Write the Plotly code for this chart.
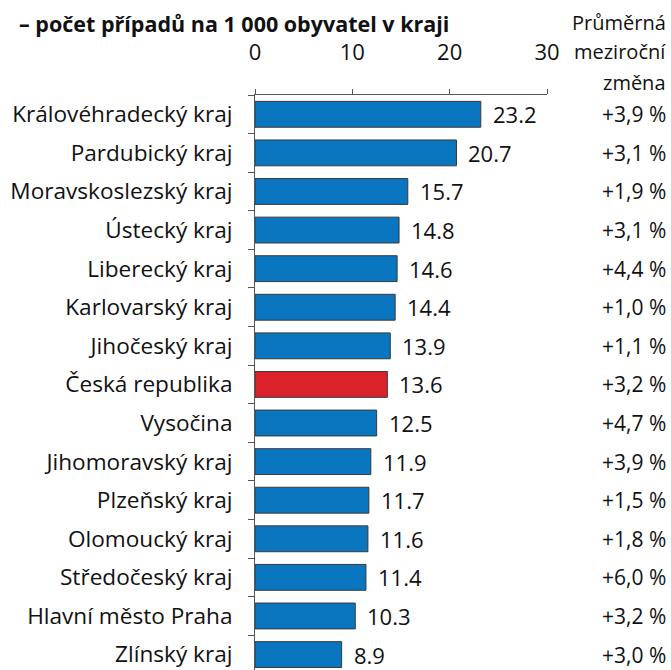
import plotly.graph_objects as go

regions = ["Královéhradecký kraj", "Pardubický kraj", "Moravskoslezský kraj", "Ústecký kraj",
           "Liberecký kraj", "Karlovarský kraj", "Jihočeský kraj", "Česká republika", "Vysočina",
           "Jihomoravský kraj", "Plzeňský kraj", "Olomoucký kraj", "Středočeský kraj",
           "Hlavní město Praha", "Zlínský kraj"]
values = [23.2, 20.7, 15.7, 14.8, 14.6, 14.4, 13.9, 13.6, 12.5, 11.9, 11.7, 11.6, 11.4, 10.3, 8.9]
changes = ["+3,9 %", "+3,1 %", "+1,9 %", "+3,1 %", "+4,4 %", "+1,0 %", "+1,1 %", "+3,2 %",
           "+4,7 %", "+3,9 %", "+1,5 %", "+1,8 %", "+6,0 %", "+3,2 %", "+3,0 %"]
x_ticks = [0, 10, 20, 30]
title_line = "– počet případů na 1 000 obyvatel v kraji"
col_header = ["Průměrná", "meziroční", "změna"]

BLUE = "#0A76BF"
RED = "#D9222A"
FONT = "Open Sans"
TXT = "#111111"
colors = [RED if r == "Česká republika" else BLUE for r in regions]

W, H = 671, 670
L, T = 255, 95
PW = 292
PH = H - T
R = W - L - PW


def px(x):
    return (x - L) / PW


def py(y):
    return (H - y) / PH


fig = go.Figure()
fig.add_trace(go.Bar(
    x=values, y=regions, orientation="h",
    marker=dict(color=colors, line=dict(color="#3a3a3a", width=1)),
    hoverinfo="skip",
))

for r, v in zip(regions, values):
    fig.add_annotation(x=v, y=r, xref="x", yref="y", text=f"{v:.1f}", showarrow=False,
                       xanchor="left", xshift=10, font=dict(family=FONT, size=22, color=TXT))
for r, c in zip(regions, changes):
    fig.add_annotation(x=px(668), y=r, xref="paper", yref="y", text=c, showarrow=False,
                       xanchor="right", font=dict(family=FONT, size=21, color=TXT))

for h, yy in zip(col_header, [22, 52, 82]):
    fig.add_annotation(x=px(668), y=py(yy), xref="paper", yref="paper", text=h,
                       showarrow=False, xanchor="right", yanchor="middle",
                       font=dict(family=FONT, size=20, color=TXT))

fig.add_annotation(x=px(17), y=py(24), xref="paper", yref="paper",
                   text="<b>" + title_line + "</b>", showarrow=False, xanchor="left",
                   yanchor="middle", font=dict(family=FONT, size=21.5, color=TXT))

fig.update_layout(
    width=W, height=H,
    margin=dict(l=L, r=R, t=T, b=0, autoexpand=False),
    paper_bgcolor="white", plot_bgcolor="white",
    bargap=0.33, showlegend=False,
    font=dict(family=FONT, size=22, color=TXT),
)

fig.update_xaxes(range=[0, 30], side="top", tickvals=x_ticks, ticks="outside", ticklen=5,
                 tickcolor="#555", showline=True, linecolor="#555", linewidth=1,
                 showgrid=False, zeroline=False, ticklabelstandoff=20,
                 tickfont=dict(family=FONT, size=22, color=TXT))
fig.update_yaxes(type="category", range=[14.4, -0.5], ticks="outside", tickson="boundaries",
                 ticklen=6, tickcolor="#555", showline=True, linecolor="#555", linewidth=1,
                 showgrid=False, ticklabelstandoff=17,
                 tickfont=dict(family=FONT, size=22.6, color=TXT))

fig.write_html("out.html",
               config={"displayModeBar": False},
               post_script="document.body.style.margin='0';document.body.style.overflow='hidden';")
